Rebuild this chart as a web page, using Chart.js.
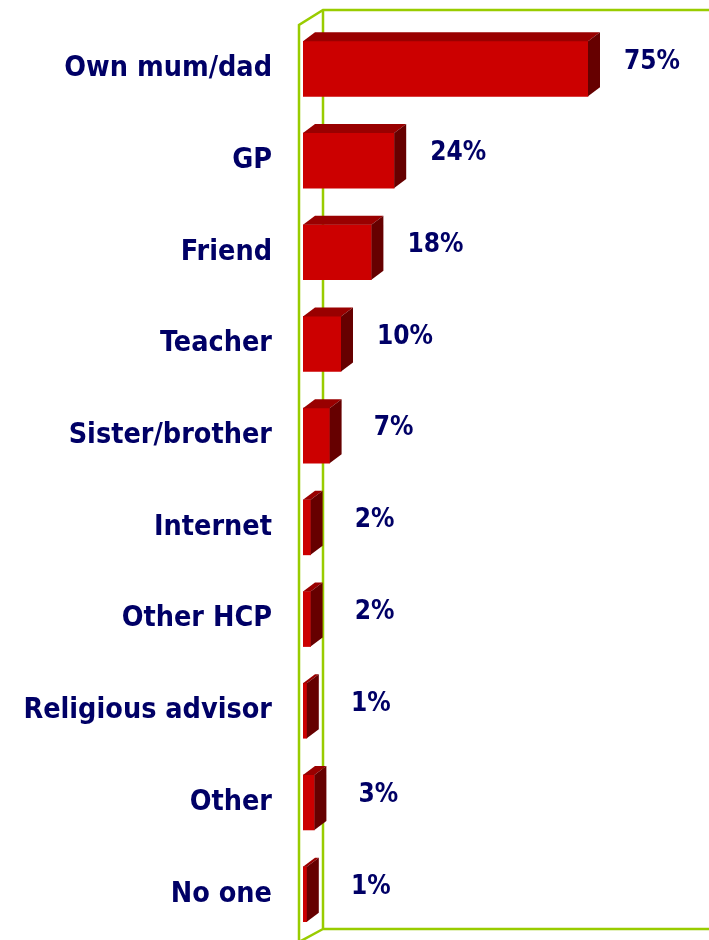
<!DOCTYPE html>
<html>
<head>
<meta charset="utf-8">
<script src="https://cdn.jsdelivr.net/npm/chart.js@4"></script>
<style>
  body { margin: 0; background: #fff; }
  #wrap { width: 709px; height: 940px; position: relative; }
</style>
</head>
<body>
<div id="wrap"><canvas id="myChart"></canvas></div>
<script>
const categories = ['Own mum/dad', 'GP', 'Friend', 'Teacher', 'Sister/brother',
  'Internet', 'Other HCP', 'Religious advisor', 'Other', 'No one'];
const values = [75, 24, 18, 10, 7, 2, 2, 1, 3, 1];

const NAVY = '#000066';
const FONT = "'DejaVu Sans Condensed', 'DejaVu Sans', sans-serif";

// green 3d frame behind the bars
const framePlugin = {
  id: 'frame',
  beforeDatasetsDraw(chart) {
    const a = chart.chartArea;
    const ctx = chart.ctx;
    const fx = a.left - 4, bx = a.left + 20;
    ctx.save();
    ctx.strokeStyle = '#99cc00';
    ctx.lineWidth = 2.5;
    ctx.beginPath();
    ctx.moveTo(fx, 945); ctx.lineTo(fx, 25); ctx.lineTo(bx, 10); ctx.lineTo(chart.width + 5, 10);
    ctx.moveTo(bx, 10); ctx.lineTo(bx, 929); ctx.lineTo(chart.width + 5, 929);
    ctx.moveTo(bx, 929); ctx.lineTo(fx, 942);
    ctx.stroke();
    ctx.restore();
  }
};

// top + side faces and the value labels
const bar3dPlugin = {
  id: 'bar3d',
  afterDatasetsDraw(chart) {
    const ctx = chart.ctx;
    const dx = 12, dy = 9;
    chart.getDatasetMeta(0).data.forEach((bar, i) => {
      const x0 = bar.base, x1 = bar.x;
      const top = bar.y - bar.height / 2, bot = bar.y + bar.height / 2;
      ctx.save();
      ctx.fillStyle = '#990000';
      ctx.beginPath();
      ctx.moveTo(x0, top); ctx.lineTo(x0 + dx, top - dy); ctx.lineTo(x1 + dx, top - dy); ctx.lineTo(x1, top);
      ctx.closePath(); ctx.fill();
      ctx.fillStyle = '#660000';
      ctx.beginPath();
      ctx.moveTo(x1, top); ctx.lineTo(x1 + dx, top - dy); ctx.lineTo(x1 + dx, bot - dy); ctx.lineTo(x1, bot);
      ctx.closePath(); ctx.fill();

      ctx.fillStyle = NAVY;
      ctx.font = 'bold 26px ' + FONT;
      ctx.textAlign = 'center';
      ctx.textBaseline = 'middle';
      ctx.fillText(values[i] + '%', x1 + 64, bar.y - 7);
      ctx.restore();
    });
  }
};

let myChart = document.getElementById('myChart').getContext('2d');

let chart = new Chart(myChart, {
  type: 'bar',
  data: {
    labels: categories,
    datasets: [{
      data: values,
      backgroundColor: '#cc0000',
      borderWidth: 0,
      barThickness: 55
    }]
  },
  options: {
    indexAxis: 'y',
    responsive: true,
    maintainAspectRatio: false,
    animation: false,
    layout: { padding: { top: 23, right: 26, bottom: -2, left: 0 } },
    plugins: {
      legend: { display: false },
      tooltip: { enabled: false }
    },
    scales: {
      x: { display: false, min: 0, max: 100 },
      y: {
        grid: { display: false },
        border: { display: false },
        ticks: {
          color: NAVY,
          padding: 23,
          font: { size: 28.5, weight: 'bold', family: FONT }
        },
        afterFit(scale) {
          scale.width = 303;
          scale.paddingTop = 0;
          scale.paddingBottom = 0;
        }
      }
    }
  },
  plugins: [framePlugin, bar3dPlugin]
});
</script>
</body>
</html>
